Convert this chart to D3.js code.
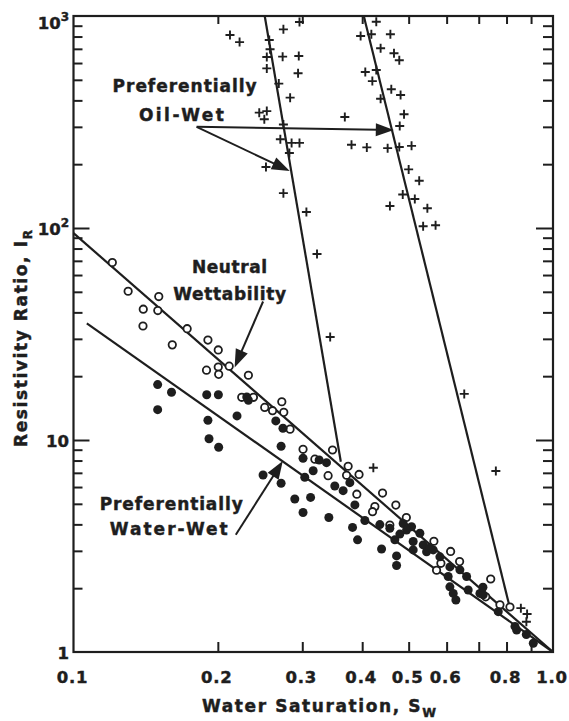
<!DOCTYPE html>
<html><head><meta charset="utf-8">
<script src="https://cdn.jsdelivr.net/npm/d3@7"></script>
<style>
body{margin:0;background:#fff}
svg{display:block}
text{font-family:"DejaVu Sans",sans-serif;font-weight:bold;fill:#1e1e1e;stroke:#1e1e1e;stroke-width:0.45px}
</style>
</head><body>
<svg id="chart" width="569" height="721"></svg>
<script>
// ---------- data ----------
const xTickValues = [0.2,0.3,0.4,0.5,0.6,0.7,0.8,0.9];
const xTickLabels = ["0.1","0.2","0.3","0.4","0.5","0.6","0.8","1.0"];
const xTickLabelValues = [0.1,0.2,0.3,0.4,0.5,0.6,0.8,1.0];
const yMajorTicks = [10,100];
const yMinorTicks = [2,3,4,5,6,7,8,9,20,30,40,50,60,70,80,90,200,300,400,500,600,700,800,900];
const yLabelValues = [1,10,100,1000];
const yLabelBase = ["1","10","10","10"];
const yLabelExp = ["","","2","3"];

// Preferentially oil-wet (+)
const oilWetSw = [0.212,0.222,0.274,0.296,0.256,0.257,0.253,0.273,0.295,0.253,0.294,0.268,0.283,0.244,0.253,0.250,0.274,0.270,0.285,0.296,0.282,0.252,0.274,0.306,0.322,
  0.428,0.397,0.418,0.458,0.437,0.466,0.478,0.406,0.428,0.420,0.460,0.481,0.437,0.489,0.368,0.479,0.380,0.409,0.452,0.478,0.507,0.500,0.526,0.486,0.515,0.457,0.547,0.536,0.569,
  0.343,0.653,0.422,0.760,0.857,0.883,0.880];
const oilWetIR = [813,753,865,937,771,697,641,643,648,566,537,480,412,350,356,326,308,262,252,252,226,194,146,119,75.4,
  940,805,820,820,705,667,618,544,556,493,451,424,407,344,334,303,247,240,238,241,244,189,167,144,137,127,124,102,103,
  30.6,16.5,7.40,7.14,1.61,1.51,1.39];

// Neutral wettability (open circles)
const neutralSw = [0.1205,0.1300,0.1506,0.1398,0.1499,0.1396,0.1726,0.1607,0.1907,0.2004,0.1894,0.2004,0.2008,0.2112,0.2316,0.2243,0.2373,0.2505,0.2601,0.2719,0.2745,0.2829,
  0.3011,0.3469,0.3187,0.3739,0.3940,0.3396,0.3711,0.3898,0.4411,0.4251,0.4702,0.4204,0.4945,0.5644,0.6116,0.5717,0.5837,0.6386,0.7415,0.7240,0.8133,0.7751,0.4568];
const neutralIR = [68.7,50.3,47.5,41.4,40.8,34.5,33.5,28.1,29.6,26.6,21.35,22.1,20.4,22.3,20.2,15.9,15.9,14.25,13.75,15.15,13.5,11.25,
  9.04,8.97,8.12,7.52,6.88,6.79,6.82,5.55,5.62,4.85,4.93,4.59,4.31,3.33,2.98,2.43,2.62,2.67,2.21,1.82,1.63,1.67,3.97];

// Preferentially water-wet (filled circles)
const waterWetSw = [0.1498,0.1601,0.1498,0.1896,0.2005,0.2298,0.2316,0.2193,0.1907,0.2642,0.2734,0.1917,0.2008,0.2710,0.2485,0.2710,
  0.3011,0.3253,0.3370,0.3161,0.3036,0.3507,0.3650,0.3770,0.2894,0.3122,0.3011,0.3408,0.3862,0.4052,0.3819,0.3912,0.4354,0.4390,
  0.4718,0.4718,0.5110,0.5626,0.6045,0.6095,0.6193,0.6273,0.6604,0.6655,0.7041,0.7154,0.7688,0.8331,0.8797,0.9097,0.8398,
  0.4870,0.5110,0.5361,0.5277,0.4568,0.5070,0.5450,0.4950,0.6095,0.7143,0.5809,0.6395,0.4679,0.4793,0.5537];
const waterWetIR = [18.25,16.8,13.9,16.35,16.35,15.96,15.4,12.99,12.4,12.3,11.36,10.14,9.24,9.34,6.84,6.25,
  8.20,8.05,7.82,7.16,6.67,6.07,5.77,6.29,5.27,5.36,4.55,4.31,4.94,4.17,3.87,3.38,3.99,3.06,
  2.84,2.56,3.03,3.03,2.27,2.03,1.89,1.76,2.27,1.96,1.89,1.86,1.55,1.32,1.21,1.10,1.27,
  4.04,3.32,3.20,3.63,3.83,3.90,2.97,3.76,2.52,2.02,2.81,2.44,3.38,3.60,3.10];

// fitted lines [Sw, IR]
const neutralLine = [[0.1,94.6],[1.0,1.0]];
const waterWetLine = [[0.1066,35.5],[1.0,1.0]];
const oilWetLine1 = [[0.2505,1000],[0.3610,7.90]];
const oilWetLine2 = [[0.4031,1000],[0.8133,1.61]];

// annotations (data coordinates)
const arrowFrom = [[0.1806,300],[0.1806,300],[0.2485,45.0],[0.2180,3.57]];
const arrowTo   = [[0.2825,185.7],[0.4656,290],[0.2168,22.0],[0.2732,7.96]];
const noteText = ["Preferentially","Oil-Wet","Neutral","Wettability","Preferentially","Water-Wet"];
const noteSw   = [0.1705,0.1679,0.2115,0.2117,0.1599,0.158];
const noteIR   = [439,321,61.3,45.8,4.68,3.56];
const noteLen  = [144,85,75,113,143,118];

// ---------- drawing ----------
const svg = d3.select("#chart");
const ink = "#1e1e1e";
const X0 = 73.5, X1 = 553, Y0 = 16, Y1 = 652;
const x = d3.scaleLog().domain([0.1,1]).range([X0,X1]);
const y = d3.scaleLog().domain([1,1000]).range([Y1,Y0]);

function tickAxis(axis, transform){
  const g = svg.append("g").attr("transform", transform).call(axis);
  g.select(".domain").remove();
  g.selectAll("line").attr("stroke", ink).attr("stroke-width", 2);
  g.selectAll("text").remove();
  return g;
}
// left
tickAxis(d3.axisLeft(y).tickValues(yMinorTicks).tickSize(-9).tickFormat(""), `translate(${X0},0)`);
tickAxis(d3.axisLeft(y).tickValues(yMajorTicks).tickSize(-16).tickFormat(""), `translate(${X0},0)`);
// right
tickAxis(d3.axisRight(y).tickValues(yMinorTicks).tickSize(-10).tickFormat(""), `translate(${X1},0)`);
tickAxis(d3.axisRight(y).tickValues(yMajorTicks).tickSize(-17).tickFormat(""), `translate(${X1},0)`);
// bottom
tickAxis(d3.axisBottom(x).tickValues(xTickValues).tickSize(-10).tickFormat(""), `translate(0,${Y1})`);
// top
tickAxis(d3.axisTop(x).tickValues(xTickValues).tickSize(-8).tickFormat(""), `translate(0,${Y0})`);

// frame
svg.append("rect").attr("x",X0).attr("y",Y0).attr("width",X1-X0).attr("height",Y1-Y0)
  .attr("fill","none").attr("stroke",ink).attr("stroke-width",2.2);

// tick labels
svg.append("g").selectAll("text").data(xTickLabelValues).join("text")
  .attr("x", d => x(d) - 1).attr("y", 683).attr("text-anchor","middle")
  .attr("font-size", 16.5).attr("letter-spacing", 0.8)
  .text((d,i) => xTickLabels[i]);

const yl = svg.append("g").selectAll("text").data(yLabelValues).join("text")
  .attr("x", 69).attr("y", (d,i) => i === 3 ? 29 : y(d) + 6.5)
  .attr("text-anchor","end").attr("font-size", 16.5);
yl.append("tspan").text((d,i) => yLabelBase[i]);
yl.append("tspan").attr("font-size", 12).attr("dy", -8).text((d,i) => yLabelExp[i]);

// axis titles
const xt = svg.append("text").attr("x", 202).attr("y", 712).attr("font-size", 17).attr("letter-spacing", 1.6);
xt.append("tspan").text("Water Saturation, S");
xt.append("tspan").attr("font-size", 12.5).attr("dy", 5).text("W");

const yt = svg.append("text").attr("transform", "translate(27,447) rotate(-90)").attr("font-size", 17).attr("letter-spacing", 1.6);
yt.append("tspan").text("Resistivity Ratio, I");
yt.append("tspan").attr("font-size", 12.5).attr("dy", 5).text("R");

// fitted lines
const line = d3.line().x(d => x(d[0])).y(d => y(d[1]));
[neutralLine, waterWetLine, oilWetLine1, oilWetLine2].forEach(L => {
  svg.append("path").attr("d", line(L)).attr("fill","none").attr("stroke",ink).attr("stroke-width",2.2);
});

// points
const neutral = neutralSw.map((s,i) => [s, neutralIR[i]]);
const water = waterWetSw.map((s,i) => [s, waterWetIR[i]]);
const oil = oilWetSw.map((s,i) => [s, oilWetIR[i]]);

svg.append("g").selectAll("circle").data(neutral).join("circle")
  .attr("cx", d => x(d[0])).attr("cy", d => y(d[1])).attr("r", 3.7)
  .attr("fill","#fff").attr("stroke",ink).attr("stroke-width",1.8);
svg.append("g").selectAll("circle").data(water).join("circle")
  .attr("cx", d => x(d[0])).attr("cy", d => y(d[1])).attr("r", 4.5)
  .attr("fill",ink);
svg.append("g").selectAll("path").data(oil).join("path")
  .attr("d", d => { const px = x(d[0]), py = y(d[1]); return `M${px-4.5},${py}H${px+4.5}M${px},${py-4.5}V${py+4.5}`; })
  .attr("stroke",ink).attr("stroke-width",1.9).attr("fill","none");

// arrows
arrowFrom.forEach((f,i) => {
  const t = arrowTo[i];
  const x1 = x(f[0]), y1 = y(f[1]), x2 = x(t[0]), y2 = y(t[1]);
  const dx = x2-x1, dy = y2-y1, len = Math.hypot(dx,dy), ux = dx/len, uy = dy/len;
  const L = 18, w = 6.5;
  const bx = x2 - ux*L, by = y2 - uy*L;
  svg.append("line").attr("x1",x1).attr("y1",y1).attr("x2",bx+ux*2).attr("y2",by+uy*2)
    .attr("stroke",ink).attr("stroke-width",2);
  svg.append("path").attr("d", `M${x2},${y2}L${bx - uy*w},${by + ux*w}L${bx + uy*w},${by - ux*w}Z`).attr("fill",ink);
});

// annotation text
svg.append("g").selectAll("text").data(noteText).join("text")
  .attr("x", (d,i) => x(noteSw[i]) - noteLen[i]/2).attr("y", (d,i) => y(noteIR[i]))
  .attr("font-size", 17).attr("textLength", (d,i) => noteLen[i]).attr("lengthAdjust","spacing")
  .text(d => d);
</script>
</body></html>
